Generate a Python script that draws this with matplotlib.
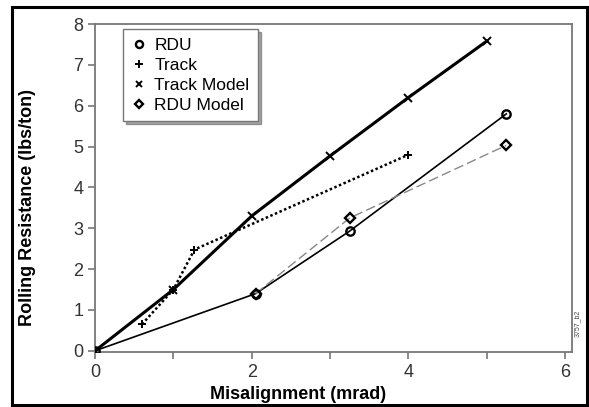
import matplotlib
matplotlib.use("Agg")
import matplotlib.pyplot as plt
from matplotlib.patches import Rectangle
from matplotlib.ticker import MultipleLocator

plt.rcParams['font.family'] = ['Liberation Sans', 'DejaVu Sans']

# data
rdu_x = [0, 2.05, 3.25, 5.25]
rdu_y = [0, 1.4, 2.93, 5.8]
track_x = [0.6, 1.0, 1.27, 4.0]
track_y = [0.65, 1.5, 2.48, 4.8]
tmodel_x = [0, 1, 2, 3, 4, 5]
tmodel_y = [0, 1.5, 3.3, 4.77, 6.2, 7.58]
rmodel_x = [2.05, 3.25, 5.25]
rmodel_y = [1.4, 3.25, 5.03]

fig = plt.figure(figsize=(5.89, 4.07), dpi=100)
ax = fig.add_axes([0.1613, 0.135, 0.81, 0.806])

gray = '#777777'
# lines
ax.plot(tmodel_x, tmodel_y, color='black', lw=2.2, zorder=3)
ax.plot(rdu_x, rdu_y, color='black', lw=1.2, zorder=3)
ax.plot(track_x, track_y, color='black', lw=1.8, ls=(0, (1.0, 1.0)), zorder=3)
ax.plot(rmodel_x, rmodel_y, color='#888888', lw=1.0, ls=(0, (7, 3)), zorder=3)

# markers
ax.plot(rdu_x, rdu_y, 'o', ms=6, mfc='none', mec='black', mew=1.7, ls='none', zorder=4, label='RDU')
ax.plot(track_x, track_y, '+', ms=6, mec='black', mew=1.4, ls='none', zorder=4, label='Track')
ax.plot(tmodel_x, tmodel_y, 'x', ms=5.5, mec='black', mew=1.4, ls='none', zorder=4, label='Track Model')
ax.plot(rmodel_x, rmodel_y, 'D', ms=5, mfc='none', mec='black', mew=1.7, ls='none', zorder=4, label='RDU Model')

ax.set_xlim(0, 6.09)
ax.set_ylim(-0.03, 8)
ax.xaxis.set_major_locator(MultipleLocator(2))
ax.xaxis.set_minor_locator(MultipleLocator(1))
ax.yaxis.set_major_locator(MultipleLocator(1))
ax.tick_params(which='both', direction='out', length=5, width=1.2, color=gray,
               labelsize=13, labelcolor='#333333')
for s in ax.spines.values():
    s.set_color(gray)
    s.set_linewidth(1.3)

ax.set_xlabel('Misalignment (mrad)', fontsize=13, fontweight='bold')
ax.xaxis.set_label_coords((298 - 95) / 477, -0.102)
ax.set_ylabel('Rolling Resistance (lbs/ton)', fontsize=13, fontweight='bold')
ax.yaxis.set_label_coords(-0.124, (352 - 207) / 328)

leg = ax.legend(loc='upper left', bbox_to_anchor=(0.059, 0.985), borderaxespad=0,
                fontsize=12.5, frameon=True, fancybox=False, shadow=True,
                handlelength=0.8, handletextpad=0.5, labelspacing=0.28,
                borderpad=0.5, markerscale=0.85)
leg.get_frame().set_edgecolor(gray)
leg.get_frame().set_linewidth(1.0)

fig.text(0.98, 0.206, '3757_b2', rotation=90, fontsize=5, color='#444444',
         ha='center', va='center')

fig.patches.append(Rectangle((0.021, 0.005), 0.976, 0.978, transform=fig.transFigure,
                             fill=False, edgecolor='black', lw=2.2))

fig.savefig('out.png', dpi=100)
